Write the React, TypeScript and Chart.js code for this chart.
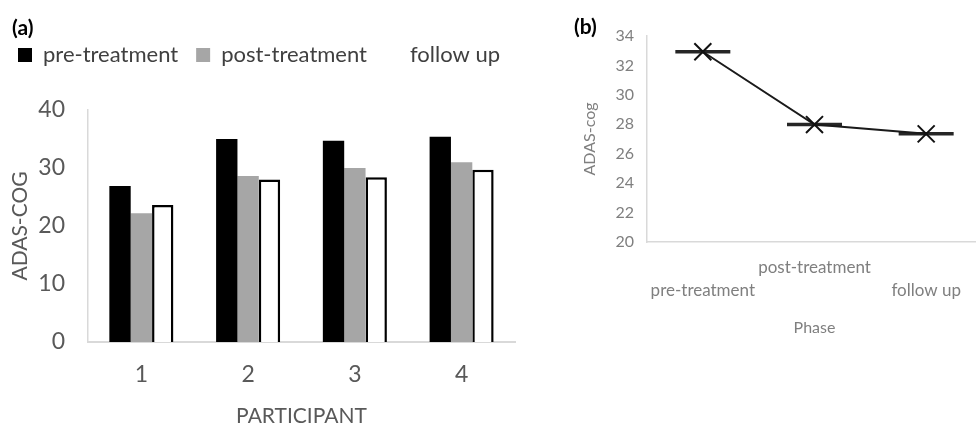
import React, { useEffect, useRef } from "react";
import { Chart, registerables } from "chart.js";

Chart.register(...registerables);

// ---- Panel (a): bar chart data ----
const participants = ["1", "2", "3", "4"];
const preTreatment = [26.9, 35.0, 34.7, 35.4];
const postTreatment = [22.2, 28.6, 30.0, 31.0];
const followUp = [23.6, 28.0, 28.4, 29.7];
const barYTicks = [0, 10, 20, 30, 40];
const seriesNames = ["pre-treatment", "post-treatment", "follow up"];

// ---- Panel (b): line chart data ----
const phases = ["pre-treatment", "post-treatment", "follow up"];
const phaseMeans = [32.93, 27.98, 27.35];
const lineYTicks = [20, 22, 24, 26, 28, 30, 32, 34];

const FONT = "Lato";

export default function App() {
  const leftRef = useRef<HTMLCanvasElement | null>(null);
  const rightRef = useRef<HTMLCanvasElement | null>(null);

  useEffect(() => {
    let cancelled = false;
    let left: Chart | null = null;
    let right: Chart | null = null;

    const build = () => {
      if (cancelled || !leftRef.current || !rightRef.current) return;

      left = new Chart(leftRef.current, {
        type: "bar",
        data: {
          labels: participants,
          datasets: [
            { label: seriesNames[0], data: preTreatment, backgroundColor: "#000000", borderWidth: 0 },
            { label: seriesNames[1], data: postTreatment, backgroundColor: "#a6a6a6", borderWidth: 0 },
            { label: seriesNames[2], data: followUp, backgroundColor: "#ffffff", borderColor: "#000000", borderWidth: 2.5 },
          ],
        },
        options: {
          animation: false,
          responsive: false,
          layout: { padding: { top: 26, left: 0, right: 0, bottom: 0 } },
          datasets: { bar: { categoryPercentage: 0.6, barPercentage: 1.0 } },
          plugins: {
            legend: {
              display: true,
              position: "top",
              align: "start",
              labels: {
                boxWidth: 14,
                boxHeight: 14,
                padding: 18,
                color: "#404040",
                font: { family: FONT, size: 22 },
                generateLabels: (chart: any) =>
                  chart.data.datasets.map((ds: any, i: number) => ({
                    text: ds.label,
                    fillStyle: ds.backgroundColor,
                    strokeStyle: ds.backgroundColor,
                    lineWidth: 0,
                    hidden: false,
                    datasetIndex: i,
                    fontColor: "#404040",
                  })),
              },
            },
            tooltip: { enabled: false },
          },
          scales: {
            x: {
              grid: { display: false, drawTicks: false },
              border: { display: true, color: "#d9d9d9", width: 2 },
              ticks: { padding: 19, color: "#595959", font: { family: FONT, size: 23 } },
              title: {
                display: true,
                text: "PARTICIPANT",
                color: "#595959",
                font: { family: FONT, size: 21 },
                padding: { top: 0, bottom: -5 },
              },
              afterFit: (s: any) => {
                s.height = 82;
              },
            },
            y: {
              min: barYTicks[0],
              max: barYTicks[barYTicks.length - 1],
              grid: { display: false, drawTicks: false },
              border: { display: true, color: "#d9d9d9", width: 1.5 },
              ticks: {
                stepSize: barYTicks[1] - barYTicks[0],
                padding: 23,
                color: "#595959",
                font: { family: FONT, size: 23 },
              },
              title: {
                display: true,
                text: "ADAS-COG",
                color: "#595959",
                font: { family: FONT, size: 21 },
                padding: { top: 8, bottom: 0 },
              },
              afterFit: (s: any) => {
                s.width = 88;
              },
            },
            // empty spacer on the right so the plot ends where the reference's does
            spacer: {
              type: "linear",
              position: "right",
              display: true,
              grid: { display: false, drawTicks: false },
              border: { display: false },
              ticks: { display: false },
              afterFit: (s: any) => {
                s.width = 25;
              },
            },
          },
        } as any,
        plugins: [
          {
            id: "legendSpace",
            beforeInit(chart: any) {
              const lg = chart.legend;
              if (!lg) return;
              const fit = lg.fit;
              lg.fit = function () {
                fit.call(this);
                this.height = 84;
              };
            },
          },
        ],
      });

      right = new Chart(rightRef.current, {
        type: "line",
        data: {
          labels: phases,
          datasets: [
            {
              label: "ADAS-cog",
              data: phaseMeans,
              borderColor: "#1a1a1a",
              borderWidth: 2,
              pointStyle: "crossRot",
              pointRadius: 12,
              pointHoverRadius: 12,
              pointBorderWidth: 2,
              pointBorderColor: "#111111",
              pointBackgroundColor: "#111111",
              fill: false,
              tension: 0,
            },
            {
              label: "range",
              data: phaseMeans,
              showLine: false,
              pointStyle: "line",
              pointRadius: 27.5,
              pointHoverRadius: 27.5,
              pointBorderWidth: 3.5,
              pointBorderColor: "#262626",
              borderColor: "#262626",
            },
          ],
        },
        options: {
          animation: false,
          responsive: false,
          layout: { padding: { top: 36, left: 0, right: 0, bottom: 80 } },
          plugins: { legend: { display: false }, tooltip: { enabled: false } },
          scales: {
            x: {
              offset: true,
              grid: { display: false, drawTicks: false },
              border: { display: true, color: "#d9d9d9", width: 1.5 },
              ticks: {
                autoSkip: false,
                maxRotation: 0,
                minRotation: 0,
                padding: 14.5,
                color: "#7f7f7f",
                font: { family: FONT, size: 17, lineHeight: 1.353 },
                callback: (_v: any, i: number) => (i % 2 === 0 ? ["", phases[i]] : phases[i]),
              },
              title: {
                display: true,
                text: "Phase",
                color: "#7f7f7f",
                font: { family: FONT, size: 16 },
                padding: { top: 0, bottom: 6.4 },
              },
              afterFit: (s: any) => {
                s.height = 102;
              },
            },
            y: {
              min: lineYTicks[0],
              max: lineYTicks[lineYTicks.length - 1],
              grid: { display: false, drawTicks: false },
              border: { display: true, color: "#d9d9d9", width: 1.5 },
              ticks: {
                stepSize: lineYTicks[1] - lineYTicks[0],
                padding: 13,
                color: "#7f7f7f",
                font: { family: FONT, size: 16 },
              },
              title: {
                display: true,
                text: "ADAS-cog",
                color: "#7f7f7f",
                font: { family: FONT, size: 16 },
                padding: { top: 40, bottom: 0 },
              },
              afterFit: (s: any) => {
                s.width = 107;
              },
            },
          },
        } as any,
      });
    };

    const fontsApi: any = (document as any).fonts;
    if (fontsApi && fontsApi.load) {
      Promise.all([
        fontsApi.load(`22px ${FONT}`),
        fontsApi.load(`bold 21px ${FONT}`),
      ])
        .catch(() => null)
        .then(build);
    } else {
      build();
    }

    return () => {
      cancelled = true;
      if (left) left.destroy();
      if (right) right.destroy();
    };
  }, []);

  const labelStyle: React.CSSProperties = {
    position: "absolute",
    fontFamily: FONT,
    fontWeight: 700,
    fontSize: 21,
    lineHeight: "21px",
    color: "#000",
  };

  return (
    <div
      style={{
        position: "absolute",
        left: 0,
        top: 0,
        width: 976,
        height: 424,
        overflow: "hidden",
        background: "#ffffff",
      }}
    >
      <div style={{ position: "absolute", left: 0, top: 0, width: 540, height: 424 }}>
        <canvas ref={leftRef} width={540} height={424} />
      </div>
      <div style={{ position: "absolute", left: 540, top: 0, width: 436, height: 424, overflow: "hidden" }}>
        <canvas ref={rightRef} width={473} height={424} />
      </div>
      <span style={{ ...labelStyle, left: 12, top: 16 }}>(a)</span>
      <span style={{ ...labelStyle, left: 574, top: 15 }}>(b)</span>
    </div>
  );
}
